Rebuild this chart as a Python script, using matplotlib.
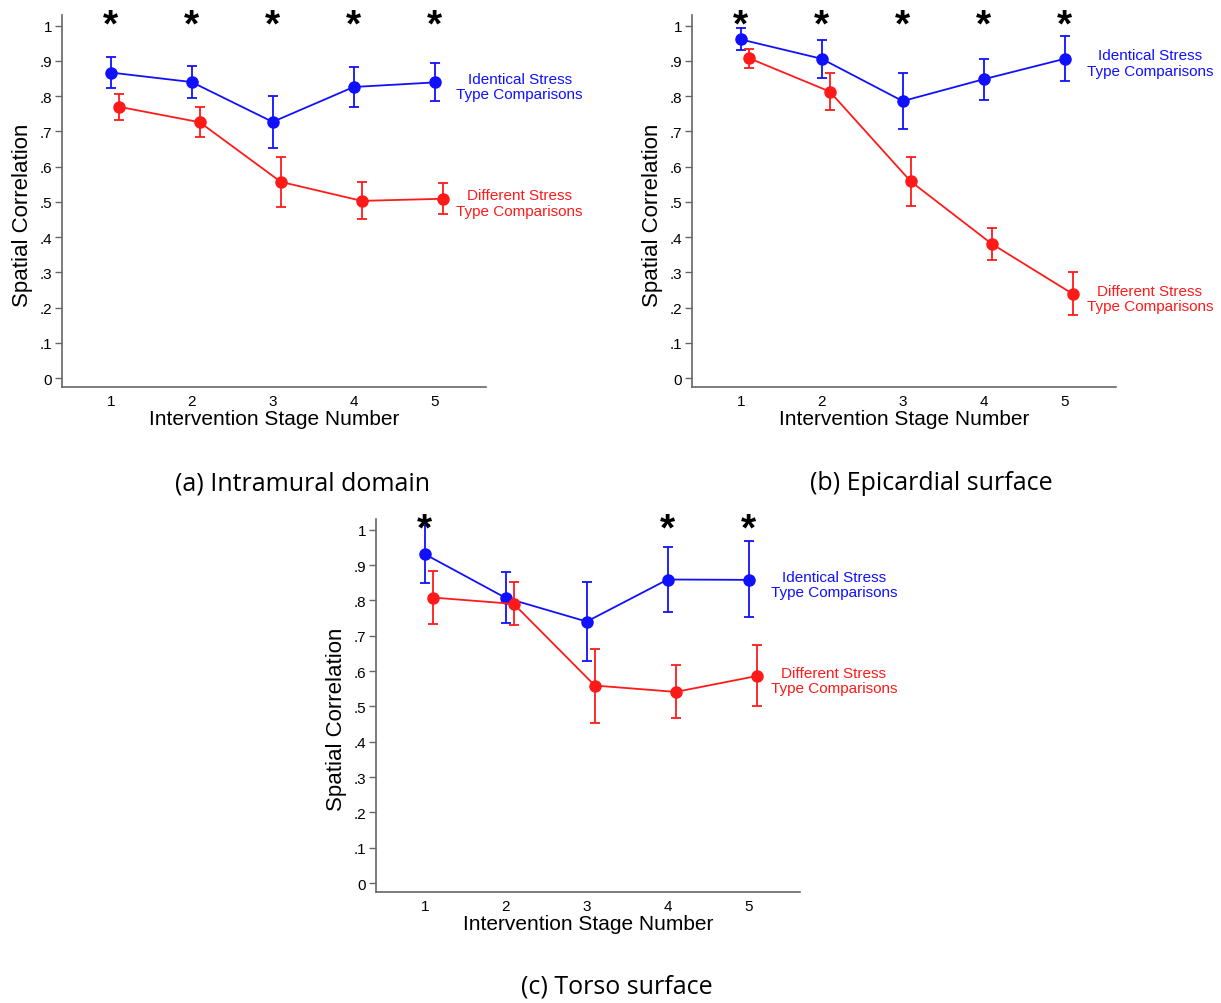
import matplotlib
matplotlib.use('Agg')
import matplotlib.pyplot as plt
import numpy as np

plt.rcParams['font.family'] = ['Liberation Sans', 'DejaVu Sans']

stages = [1, 2, 3, 4, 5]
yticks = [0, .1, .2, .3, .4, .5, .6, .7, .8, .9, 1]
ytick_labels = ['0', '.1', '.2', '.3', '.4', '.5', '.6', '.7', '.8', '.9', '1']

# (a) intramural domain
a_same = [0.867, 0.840, 0.727, 0.826, 0.839]
a_same_lo = [0.824, 0.794, 0.654, 0.770, 0.785]
a_same_hi = [0.911, 0.886, 0.801, 0.882, 0.895]
a_diff = [0.770, 0.726, 0.557, 0.503, 0.509]
a_diff_lo = [0.731, 0.683, 0.487, 0.451, 0.465]
a_diff_hi = [0.806, 0.769, 0.627, 0.557, 0.553]
a_star = [1, 2, 3, 4, 5]

# (b) epicardial surface
b_same = [0.961, 0.906, 0.786, 0.848, 0.906]
b_same_lo = [0.930, 0.851, 0.708, 0.790, 0.844]
b_same_hi = [0.992, 0.960, 0.865, 0.905, 0.970]
b_diff = [0.908, 0.813, 0.558, 0.381, 0.239]
b_diff_lo = [0.881, 0.762, 0.488, 0.336, 0.178]
b_diff_hi = [0.933, 0.865, 0.628, 0.426, 0.300]
b_star = [1, 2, 3, 4, 5]

# (c) torso surface
c_same = [0.931, 0.807, 0.740, 0.859, 0.858]
c_same_lo = [0.850, 0.735, 0.628, 0.766, 0.752]
c_same_hi = [1.012, 0.879, 0.853, 0.952, 0.968]
c_diff = [0.808, 0.790, 0.559, 0.541, 0.586]
c_diff_lo = [0.732, 0.730, 0.454, 0.466, 0.500]
c_diff_hi = [0.884, 0.851, 0.663, 0.617, 0.673]
c_star = [1, 4, 5]

captions = ['(a) Intramural domain', '(b) Epicardial surface', '(c) Torso surface']

BLUE = '#1010ff'
RED = '#ff1a1a'


def draw_panel(ax, same, same_lo, same_hi, diff, diff_lo, diff_hi, stars):
    x = np.array(stages, dtype=float)
    same = np.array(same)
    diff = np.array(diff)
    ax.errorbar(x, same, yerr=[same - np.array(same_lo), np.array(same_hi) - same],
                color=BLUE, marker='o', ms=8, lw=1.3, elinewidth=1.3,
                capsize=3.5, capthick=1.3, clip_on=False, zorder=3)
    ax.errorbar(x + 0.1, diff, yerr=[diff - np.array(diff_lo), np.array(diff_hi) - diff],
                color=RED, marker='o', ms=8, lw=1.3, elinewidth=1.3,
                capsize=3.5, capthick=1.3, clip_on=False, zorder=3)
    for s in stars:
        ax.text(s, 0.972, '*', ha='center', va='baseline', fontsize=28,
                fontweight='bold', color='black', clip_on=False, zorder=4)
    ax.text(6.05, same[-1] - 0.012, 'Identical Stress\nType Comparisons', color=BLUE,
            ha='center', va='center', fontsize=11, linespacing=1.1, clip_on=False)
    ax.text(6.05, diff[-1] - 0.012, 'Different Stress\nType Comparisons', color=RED,
            ha='center', va='center', fontsize=11, linespacing=1.1, clip_on=False)

    ax.set_xlim(0.4, 5.63)
    ax.set_ylim(-0.025, 1.03)
    ax.set_xticks(stages)
    ax.set_xticklabels([str(s) for s in stages])
    ax.set_yticks(yticks)
    ax.set_yticklabels(ytick_labels)
    ax.tick_params(axis='x', length=0, pad=5, labelsize=11)
    ax.tick_params(axis='y', length=5, color='#666666', width=1, pad=2, labelsize=11)
    for sp in ['top', 'right']:
        ax.spines[sp].set_visible(False)
    for sp in ['left', 'bottom']:
        ax.spines[sp].set_color('#666666')
        ax.spines[sp].set_linewidth(1.2)
    ax.set_xlabel('Intervention Stage Number', fontsize=15, labelpad=1)
    ax.set_ylabel('Spatial Correlation', fontsize=16)
    ax.yaxis.set_label_coords(-0.068, 0.465)


fig = plt.figure(figsize=(12.21, 10.04), dpi=100)
ax_a = fig.add_axes([0.0508, 0.6135, 0.347, 0.3705])
ax_b = fig.add_axes([0.5668, 0.6135, 0.347, 0.3705])
ax_c = fig.add_axes([0.3080, 0.1106, 0.347, 0.3714])

draw_panel(ax_a, a_same, a_same_lo, a_same_hi, a_diff, a_diff_lo, a_diff_hi, a_star)
draw_panel(ax_b, b_same, b_same_lo, b_same_hi, b_diff, b_diff_lo, b_diff_hi, b_star)
draw_panel(ax_c, c_same, c_same_lo, c_same_hi, c_diff, c_diff_lo, c_diff_hi, c_star)

cap_font = ['Open Sans', 'DejaVu Sans']
fig.text(0.248, 0.518, captions[0], ha='center', va='center', fontsize=18,
         family=cap_font)
fig.text(0.763, 0.518, captions[1], ha='center', va='center', fontsize=18,
         family=cap_font)
fig.text(0.505, 0.017, captions[2], ha='center', va='center', fontsize=18,
         family=cap_font)

fig.savefig('out.png', dpi=100)
